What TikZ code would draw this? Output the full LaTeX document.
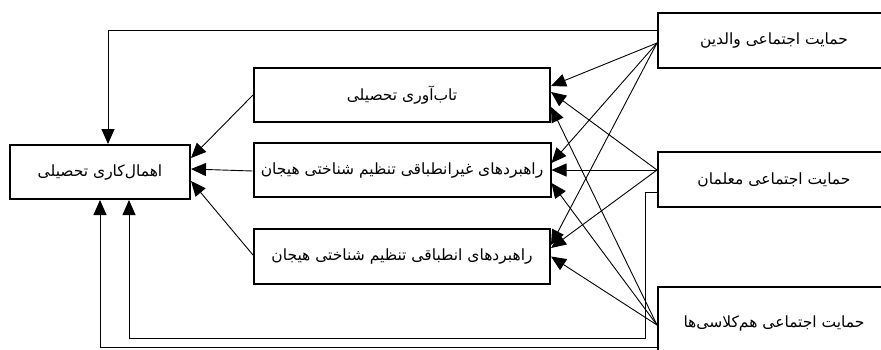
\documentclass[tikz,border=0pt]{standalone}
\usepackage{fontspec}
\newfontfamily\farsi[Script=Arabic]{DejaVu Sans}
\TeXXeTstate=1
\usetikzlibrary{arrows.meta,calc}
\definecolor{smLine}{RGB}{0,0,0}

\newcommand{\fa}[1]{\beginR #1\endR}

\tikzset{
  varbox/.style={draw=smLine, line width=2pt, minimum height=54pt, inner sep=0pt,
    font=\farsi\fontsize{15.5}{18}\selectfont},
  link/.style={smLine, line width=0.9pt, -{Triangle[length=15pt,width=13pt]}},
}

\begin{document}
\begin{tikzpicture}[x=1pt,y=-1pt]
  \useasboundingbox (0,0) rectangle (881,349);
  \clip (0,0) rectangle (881,349);

  % outcome
  \node[varbox, minimum width=180pt] (proc) at (100,172) {\fa{اهمال‌کاری تحصیلی}};

  % mediators
  \node[varbox, minimum width=296pt] (resil) at (402,95) {\fa{تاب‌آوری تحصیلی}};
  \node[varbox, minimum width=297pt] (malad) at (402,170) {\fa{راهبردهای غیرانطباقی تنظیم شناختی هیجان}};
  \node[varbox, minimum width=296pt, minimum height=55pt] (adapt) at (402,256.5) {\fa{راهبردهای انطباقی تنظیم شناختی هیجان}};

  % social support (cut by the right edge)
  \node[varbox, minimum width=232pt, minimum height=55pt] (parent) at (774,40.5) {\fa{حمایت اجتماعی والدین}};
  \node[varbox, minimum width=232pt, minimum height=55pt] (teacher) at (774,179.5) {\fa{حمایت اجتماعی معلمان}};
  \node[varbox, minimum width=232pt, minimum height=72pt] (mates) at (774,323) {\fa{حمایت اجتماعی هم‌کلاسی‌ها}};

  % mediators -> outcome
  \draw[link] (resil.west) -- ([yshift=14pt]proc.east);
  \draw[link] ([yshift=-1pt]malad.west) -- ([yshift=3pt]proc.east);
  \draw[link] ([yshift=1.5pt]adapt.west) -- ([yshift=-9pt]proc.east);

  % parents
  \coordinate (parOut) at ([yshift=-2.5pt]parent.west);
  \draw[link] (parOut) -- ([yshift=9pt]resil.east);
  \draw[link] (parOut) -- ([yshift=7pt]malad.east);
  \draw[link] (parOut) -- ([yshift=11.5pt]adapt.east);

  % teachers
  \coordinate (teaOut) at ([yshift=9.5pt]teacher.west);
  \draw[link] (teaOut) -- ([yshift=3pt]resil.east);
  \draw[link] (teaOut) -- (teaOut -| malad.east);
  \draw[link] (teaOut) -- ([yshift=8.5pt]adapt.east);

  % classmates
  \coordinate (matOut) at ([yshift=-2pt]mates.west);
  \draw[link] (matOut) -- ([yshift=-12pt]resil.east);
  \draw[link] (matOut) -- ([yshift=-13pt]malad.east);
  \draw[link] (matOut) -- (adapt.east);

  % direct paths
  \draw[link] ([yshift=10.5pt]parent.west) -| ([xshift=8pt]proc.north);
  \coordinate (teaBend) at (645,338);
  \draw[link] ([yshift=-12.5pt]teacher.west) -| (teaBend) -| ([xshift=29pt]proc.south);
  \draw[link] ([yshift=-24pt]mates.west) -| (proc.south);
\end{tikzpicture}
\end{document}
